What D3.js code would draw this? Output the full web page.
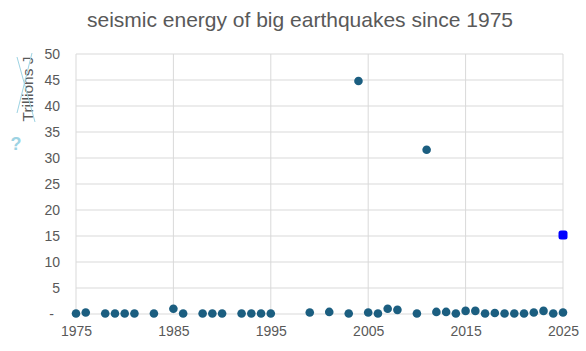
<html>
<head>
<script src="https://cdn.jsdelivr.net/npm/d3@7"></script>
<style>
  body { margin: 0; background: #fff; }
  text { font-family: "Liberation Sans", Arial, sans-serif; }
</style>
</head>
<body>
<div id="chart"></div>
<script>
var width = 586;
var height = 351;
var margin = {top: 54, right: 21, bottom: 37, left: 76};

var years = [1975, 1976, 1978, 1979, 1980, 1981, 1983, 1985, 1986, 1988, 1989, 1990,
  1992, 1993, 1994, 1995, 1999, 2001, 2003, 2004, 2005, 2006, 2007, 2008, 2010, 2011,
  2012, 2013, 2014, 2015, 2016, 2017, 2018, 2019, 2020, 2021, 2022, 2023, 2024, 2025];
var energy = [0.1, 0.3, 0.1, 0.1, 0.1, 0.1, 0.1, 1.0, 0.1, 0.1, 0.1, 0.1,
  0.1, 0.1, 0.1, 0.1, 0.3, 0.4, 0.1, 44.8, 0.3, 0.1, 1.0, 0.8, 0.1, 31.6,
  0.4, 0.4, 0.1, 0.6, 0.6, 0.1, 0.2, 0.1, 0.1, 0.1, 0.3, 0.6, 0.1, 0.3];
var highlight = [{year: 2025, value: 15.2}];

var xTicks = [1975, 1985, 1995, 2005, 2015, 2025];
var yTicks = [0, 5, 10, 15, 20, 25, 30, 35, 40, 45, 50];

var svg = d3.select('#chart').append('svg')
  .attr('width', width)
  .attr('height', height);

var x = d3.scaleLinear().domain([1975, 2025]).range([margin.left, width - margin.right - 2]);
var y = d3.scaleLinear().domain([0, 50]).range([height - margin.bottom, margin.top]);

// title
svg.append('text')
  .attr('x', 300).attr('y', 27)
  .attr('text-anchor', 'middle')
  .attr('font-size', 21)
  .attr('fill', '#595959')
  .text('seismic energy of big earthquakes since 1975');

// grid
svg.append('g').selectAll('line').data(yTicks).enter().append('line')
  .attr('x1', x(1975)).attr('x2', x(2025))
  .attr('y1', d => y(d)).attr('y2', d => y(d))
  .attr('stroke', '#d9d9d9').attr('stroke-width', 1);
svg.append('g').selectAll('line').data(xTicks).enter().append('line')
  .attr('x1', d => x(d)).attr('x2', d => x(d))
  .attr('y1', y(0)).attr('y2', y(50))
  .attr('stroke', '#d9d9d9').attr('stroke-width', 1);

// y axis
var yAxis = svg.append('g')
  .attr('transform', `translate(${margin.left},0)`)
  .call(d3.axisLeft(y).tickValues(yTicks).tickSize(0).tickPadding(16)
    .tickFormat(d => d === 0 ? '-' : d));
yAxis.select('.domain').remove();
yAxis.selectAll('text')
  .attr('font-size', 14).attr('fill', '#595959')
  .attr('font-family', '"Liberation Sans", Arial, sans-serif')
  .attr('dx', d => d === 0 ? -6 : 0);

// x axis
var xAxis = svg.append('g')
  .attr('transform', `translate(0,${y(0)})`)
  .call(d3.axisBottom(x).tickValues(xTicks).tickSize(0).tickPadding(12)
    .tickFormat(d3.format('d')));
xAxis.select('.domain').remove();
xAxis.selectAll('text')
  .attr('font-size', 14).attr('fill', '#595959')
  .attr('font-family', '"Liberation Sans", Arial, sans-serif');

// y label with crossed lines
svg.append('text')
  .attr('transform', 'translate(33,89) rotate(-90)')
  .attr('text-anchor', 'middle')
  .attr('font-size', 15.5)
  .attr('fill', '#595959')
  .text('Trillions J');
svg.append('line').attr('x1', 17).attr('y1', 57).attr('x2', 35).attr('y2', 122)
  .attr('stroke', '#9dd3e3').attr('stroke-width', 1);
svg.append('line').attr('x1', 32).attr('y1', 53).attr('x2', 17).attr('y2', 113)
  .attr('stroke', '#9dd3e3').attr('stroke-width', 1);
svg.append('text')
  .attr('x', 16).attr('y', 150)
  .attr('text-anchor', 'middle')
  .attr('font-size', 18).attr('font-weight', 'bold')
  .attr('fill', '#9dd3e3')
  .text('?');

// points
svg.append('g').selectAll('circle')
  .data(years.map((yr, i) => ({year: yr, value: energy[i]})))
  .enter().append('circle')
  .attr('cx', d => x(d.year))
  .attr('cy', d => y(d.value))
  .attr('r', 4.3)
  .attr('fill', '#1b5e80');

svg.append('g').selectAll('rect')
  .data(highlight)
  .enter().append('rect')
  .attr('x', d => x(d.year) - 4.5)
  .attr('y', d => y(d.value) - 4.5)
  .attr('width', 9).attr('height', 9)
  .attr('rx', 2.5)
  .attr('fill', '#0000ff');
</script>
</body>
</html>
